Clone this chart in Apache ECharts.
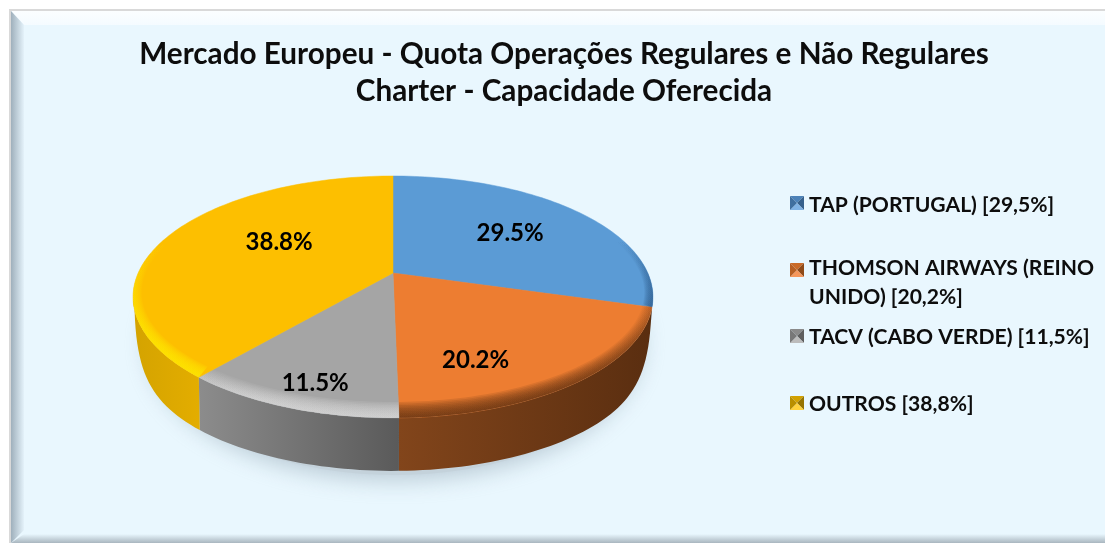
<!DOCTYPE html>
<html><head><meta charset="utf-8">
<style>html,body{margin:0;padding:0;background:#fff}#c{width:1105px;height:543px}</style>
<script src="https://cdn.jsdelivr.net/npm/echarts@6/dist/echarts.min.js"></script>
</head><body><div id="c"></div>
<script>
const titleLines = ['Mercado Europeu - Quota Operações Regulares e Não Regulares', 'Charter - Capacidade Oferecida'];
const categories = ['TAP (PORTUGAL)', 'THOMSON AIRWAYS (REINO UNIDO)', 'TACV (CABO VERDE)', 'OUTROS'];
const values = [29.5, 20.2, 11.5, 38.8];
const legendLabels = ['TAP (PORTUGAL) [29,5%]', 'THOMSON AIRWAYS (REINO\nUNIDO) [20,2%]', 'TACV (CABO VERDE) [11,5%]', 'OUTROS [38,8%]'];
const topColors = ['#5b9bd5', '#ed7d31', '#a5a5a5', '#fdbf00'];

/* styling and layout, separate from the values */
const rimColors = ['#2f5f90', '#5f3010', '#dcdcdc', '#ffe600'];
const rimFrom = [240, 270, 350, 240];
const rimTo = [306, 400, 400, 345];
const rimAlpha = [0.16, 0.15, 0.13, 0.17];
const sideFrom = ['#3e6c9c', '#82451b', '#8c8c8c', '#e3ad00'];
const sideTo = ['#2f5a86', '#5a2e10', '#5a5a5a', '#d4a300'];
const swatch = [['#3f6f9f','#35608c','#7fb2e4','#4c82b8'],['#b85f22','#8f4a18','#f5965a','#c96a28'],['#787878','#5f5f5f','#bcbcbc','#8a8a8a'],['#b98f00','#967400','#ffd23c','#d2a100']];
const legendY = [203, 270, 336, 403];
const legendTextY = [191, 254, 323, 390];
const labelNudge = [[3,-1],[-20,26],[-20,36],[24,-8]];

const CX = 393, CY = 273, A = 254.8, B = 116.2, K = 0.198;
const ELL_CY = 298, SIDE_DEPTH = 53;
const total = values.reduce((a, b) => a + b, 0);
const starts = values.map((_, i) => values.slice(0, i).reduce((a, b) => a + b, 0));

function project(u, v) { const w = 1 - K * v; return [CX + A * u / w, CY + B * v / w]; }
function rimPoint(t) { return project(Math.sin(t), -Math.cos(t)); }
function angles(i) {
  const a0 = starts[i] / total * 2 * Math.PI, a1 = (starts[i] + values[i]) / total * 2 * Math.PI;
  const n = Math.max(8, Math.round((a1 - a0) * 40)), out = [];
  for (let j = 0; j <= n; j++) out.push(a0 + (a1 - a0) * j / n);
  return out;
}
function lin(x0, y0, x1, y1, c0, c1) {
  return { type: 'linear', x: x0, y: y0, x2: x1, y2: y1, global: true, colorStops: [{ offset: 0, color: c0 }, { offset: 1, color: c1 }] };
}
function hexA(hex, a) {
  const n = parseInt(hex.slice(1), 16);
  return 'rgba(' + (n >> 16) + ',' + ((n >> 8) & 255) + ',' + (n & 255) + ',' + a + ')';
}
function depthAt(y) { const q = Math.max(0, (y - ELL_CY) / 120); return SIDE_DEPTH * (1 - Math.pow(1 - q, 5)); }
function renderSide(p, api) {
  const i = api.value(1);
  const top = angles(i).map(rimPoint).filter(q => q[1] >= ELL_CY);
  if (top.length < 2) return { type: 'group', children: [] };
  const bot = top.map(q => [CX + (q[0] - CX) * 0.995, q[1] + depthAt(q[1])]).reverse();
  const xs = top.map(q => q[0]);
  const x0 = Math.min(...xs), x1 = Math.max(...xs);
  return { type: 'polygon', shape: { points: top.concat(bot) }, silent: true,
    style: { fill: lin(x0, 0, x1, 0, i === 3 ? sideTo[i] : sideFrom[i], i === 3 ? sideFrom[i] : sideTo[i]) } };
}
function renderTop(p, api) {
  const i = api.value(1);
  const th = angles(i);
  const rim = th.map(rimPoint);
  const children = [{ type: 'polygon', shape: { points: [[CX, CY]].concat(rim) }, style: { fill: topColors[i], stroke: topColors[i], lineWidth: 0.5 } }];
  const steps = 10;
  for (let k = 1; k <= steps; k++) {
    const f = k / steps;
    const inner = th.map(t => project(Math.sin(t) * (1 - 0.03 * f), -Math.cos(t) * (1 - 0.09 * f))).reverse();
    children.push({ type: 'polygon', shape: { points: rim.concat(inner) },
      style: { fill: lin(0, rimFrom[i], 0, rimTo[i], hexA(rimColors[i], 0), hexA(rimColors[i], rimAlpha[i])) } });
  }
  return { type: 'group', silent: true, children };
}
function renderLabel(p, api) {
  const i = api.value(1);
  const t = (starts[i] + values[i] / 2) / total * 2 * Math.PI;
  const q = project(0.6 * Math.sin(t), -0.6 * Math.cos(t));
  return { type: 'text', silent: true, style: { x: q[0] + labelNudge[i][0], y: q[1] + labelNudge[i][1],
    text: api.value(0).toFixed(1) + '%', fill: '#000', font: 'bold 24px Lato', align: 'center', verticalAlign: 'middle' } };
}

const frame = [
  { type: 'rect', shape: { x: 9, y: 9, width: 1096, height: 534 }, style: { fill: '#d9d9d9' } },
  { type: 'rect', shape: { x: 11, y: 11, width: 1094, height: 532 }, style: { fill: '#e9f7fe' } },
  { type: 'polygon', shape: { points: [[11, 11], [1105, 11], [1105, 25], [24, 25]] }, style: { fill: lin(0, 11, 0, 25, '#fbfeff', '#f4fbff') } },
  { type: 'polygon', shape: { points: [[11, 11], [24, 25], [24, 530], [11, 543]] }, style: { fill: lin(11, 0, 24, 0, '#9fb0bc', '#e4f2fa') } },
  { type: 'polygon', shape: { points: [[11, 543], [24, 534], [1105, 534], [1105, 543]] }, style: { fill: lin(0, 534, 0, 543, '#e9f7fe', '#a9b6bf') } }
];
const shadow = [{ type: 'ellipse', shape: { cx: CX + 2, cy: 340, rx: 246, ry: 135 }, silent: true,
  style: { fill: '#c4d2db', shadowBlur: 24, shadowColor: 'rgba(130,150,165,0.5)', shadowOffsetY: 4 } }];
const legendEls = [];
legendLabels.forEach((s, i) => {
  const y = legendY[i], x0 = 790, x1 = 804, y0 = y - 7, y1 = y + 7, cx = 797;
  const tris = [[[x0, y0], [x1, y0], [cx, y]], [[x1, y0], [x1, y1], [cx, y]], [[x0, y1], [x1, y1], [cx, y]], [[x0, y0], [x0, y1], [cx, y]]];
  tris.forEach((t, j) => legendEls.push({ type: 'polygon', shape: { points: t }, style: { fill: swatch[i][[3, 1, 2, 0][j]] } }));
  legendEls.push({ type: 'text', style: { x: 809, y: legendTextY[i], text: s, fill: '#0d0d0d', font: 'bold 21.1px Lato', lineHeight: 29, verticalAlign: 'top', align: 'left' } });
});
const data = values.map((v, i) => ({ name: categories[i], value: [v, i] }));
const chart = echarts.init(document.getElementById('c'), null, { renderer: 'canvas' });
chart.setOption({
  animation: false,
  backgroundColor: '#ffffff',
  graphic: { elements: frame.concat(shadow).concat(legendEls) },
  title: { text: titleLines.join('\n'), left: 559, top: 31, textAlign: 'center',
    textStyle: { fontFamily: 'Lato', fontWeight: 'bold', fontSize: 29.7, lineHeight: 37, color: '#0d0d0d' } },
  series: [
    { type: 'custom', coordinateSystem: 'none', renderItem: renderSide, data, z: 3 },
    { type: 'custom', coordinateSystem: 'none', renderItem: renderTop, data, z: 4 },
    { type: 'custom', coordinateSystem: 'none', renderItem: renderLabel, data, z: 5 }
  ]
});
</script></body></html>
